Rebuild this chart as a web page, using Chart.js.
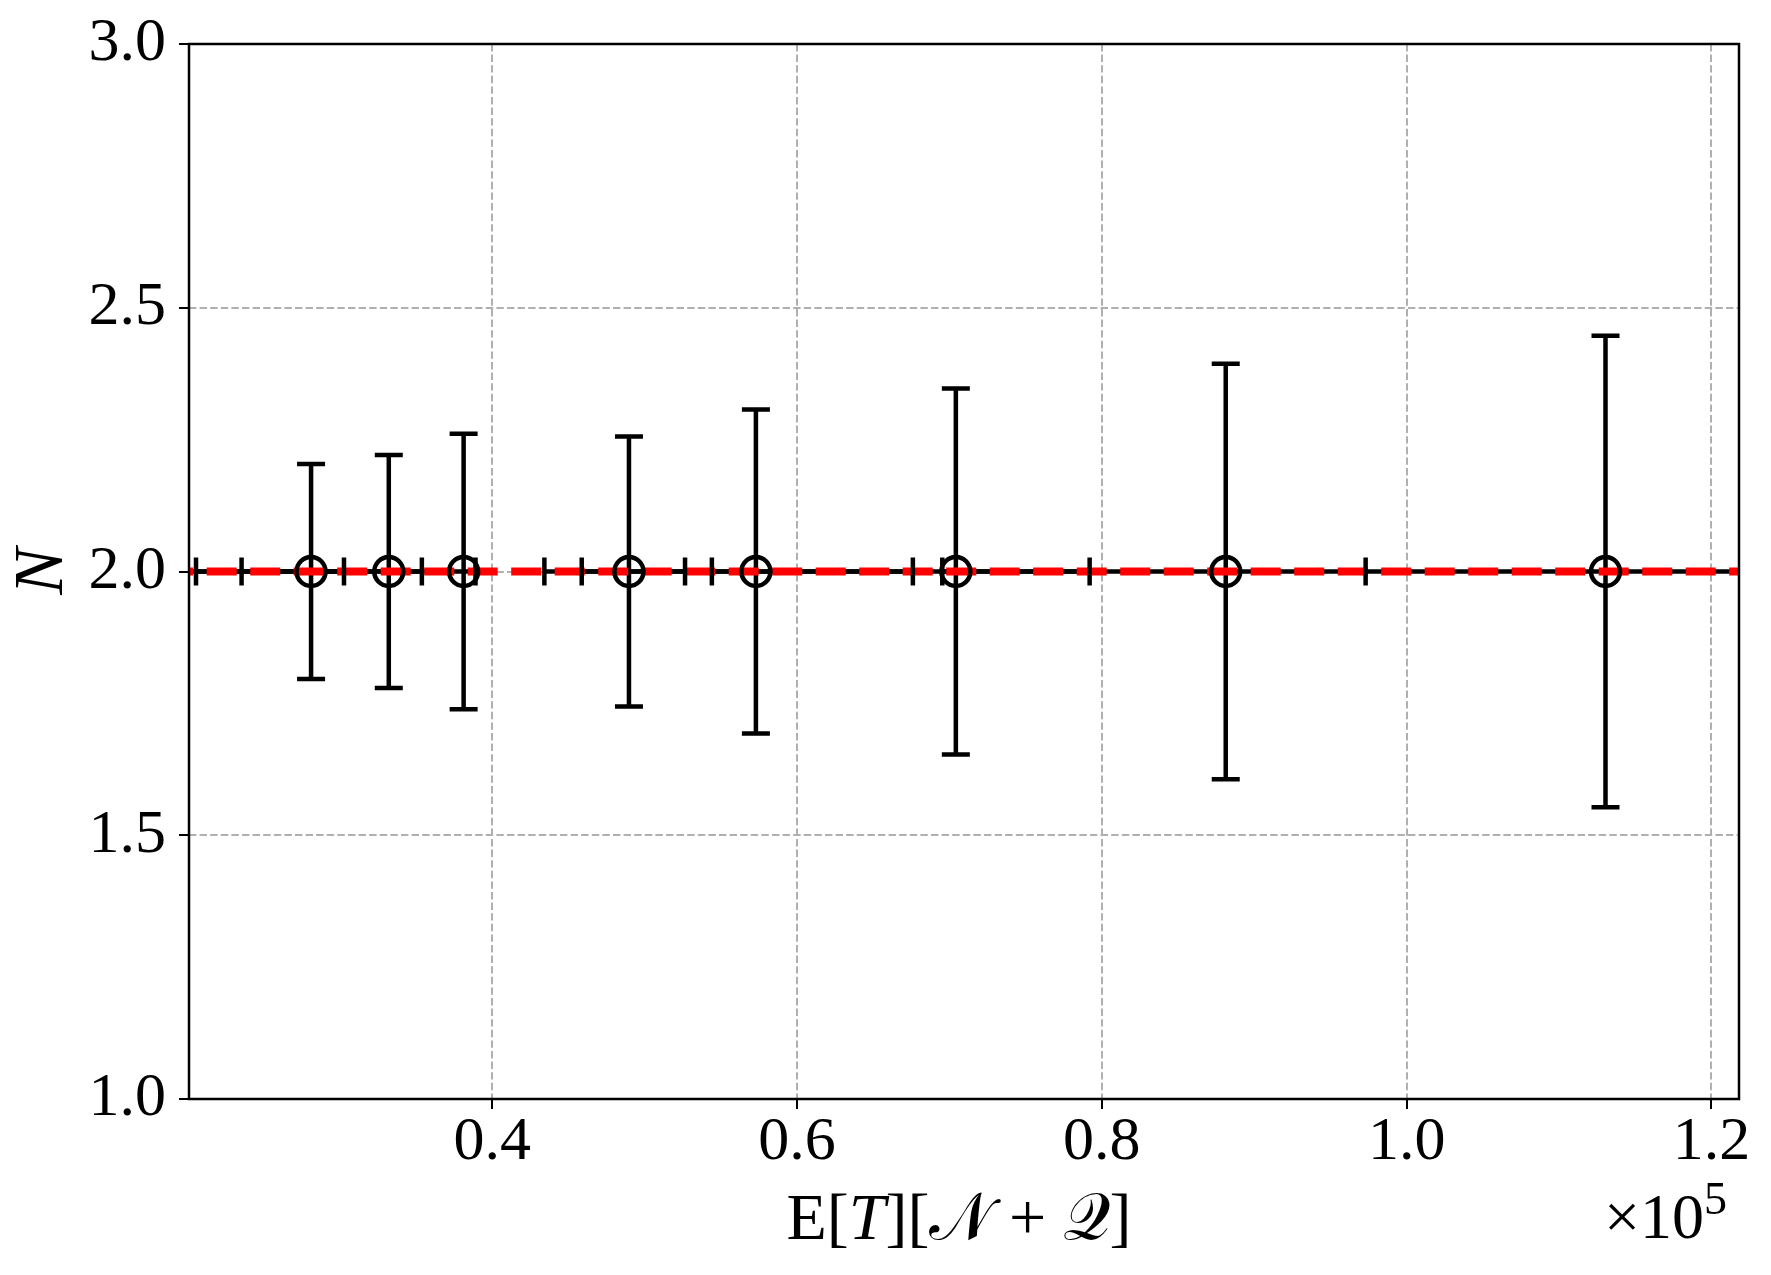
<!DOCTYPE html>
<html>
<head>
<meta charset="utf-8">
<script src="https://cdn.jsdelivr.net/npm/chart.js@4.4.1/dist/chart.umd.min.js"></script>
<style>
  html, body { margin: 0; padding: 0; background: #fff; }
  canvas { display: block; }
</style>
</head>
<body>
<canvas id="chart" width="1771" height="1275"></canvas>
<script>
// E[T] estimates (raw values, axis shows them in units of 1e5)
const meanTime = [28110, 33210, 38120, 48970, 57300, 70420, 88130, 113050];
const timeLow = [19500, 20560, 23550, 43420, 45870, 52650, 69530, 97310];
const timeHigh = [30270, 35380, 38900, 54410, 67600, 79200, 97310, 129000];
const estN = [2, 2, 2, 2, 2, 2, 2, 2];
const nErr = [0.204, 0.221, 0.261, 0.256, 0.307, 0.347, 0.394, 0.447];
const trueN = 2;

const xTicks = [40000, 60000, 80000, 100000, 120000];
const yTicks = [1.0, 1.5, 2.0, 2.5, 3.0];
const xLimits = [20100, 121810];
const yLimits = [1, 3];

const serif = '"Liberation Serif", "DejaVu Serif", serif';

function clipArea(ctx, a) {
    ctx.beginPath();
    ctx.rect(a.left, a.top, a.right - a.left, a.bottom - a.top);
    ctx.clip();
}

// error bar lines go under the red line, caps go over it
const errorBars = {
    id: 'errorBars',
    beforeDatasetsDraw(chart) {
        const { ctx, chartArea, scales: { x, y } } = chart;
        ctx.save();
        clipArea(ctx, chartArea);
        ctx.strokeStyle = '#000';
        ctx.lineWidth = 4.5;
        meanTime.forEach((t, i) => {
            const px = x.getPixelForValue(t);
            const py = y.getPixelForValue(estN[i]);
            ctx.beginPath();
            ctx.moveTo(x.getPixelForValue(timeLow[i]), py);
            ctx.lineTo(x.getPixelForValue(timeHigh[i]), py);
            ctx.moveTo(px, y.getPixelForValue(estN[i] + nErr[i]));
            ctx.lineTo(px, y.getPixelForValue(estN[i] - nErr[i]));
            ctx.stroke();
        });
        ctx.restore();
    },
    afterDatasetDraw(chart, args) {
        if (args.index !== 0) return;
        const { ctx, chartArea, scales: { x, y } } = chart;
        const cap = 14;
        ctx.save();
        clipArea(ctx, chartArea);
        ctx.strokeStyle = '#000';
        ctx.lineWidth = 4.5;
        ctx.beginPath();
        meanTime.forEach((t, i) => {
            const px = x.getPixelForValue(t);
            const py = y.getPixelForValue(estN[i]);
            [timeLow[i], timeHigh[i]].forEach(v => {
                const cx = x.getPixelForValue(v);
                ctx.moveTo(cx, py - cap);
                ctx.lineTo(cx, py + cap);
            });
            [estN[i] + nErr[i], estN[i] - nErr[i]].forEach(v => {
                const cy = y.getPixelForValue(v);
                ctx.moveTo(px - cap, cy);
                ctx.lineTo(px + cap, cy);
            });
        });
        ctx.stroke();
        ctx.restore();
    }
};

const frameAndLabels = {
    id: 'frameAndLabels',
    afterDraw(chart) {
        const { ctx, chartArea: a } = chart;
        ctx.save();
        ctx.strokeStyle = '#000';
        ctx.lineWidth = 2.5;
        ctx.strokeRect(a.left, a.top, a.right - a.left, a.bottom - a.top);

        // x axis label: E[T][N + Q]
        const parts = [
            ['E[', ''], ['T', 'italic '], ['][', ''], ['\u{1D4A9}', ''],
            [' + ', ''], ['\u{1D4AC}', ''], [']', '']
        ];
        const size = 66;
        let total = 0;
        parts.forEach(p => {
            ctx.font = p[1] + size + 'px ' + serif;
            p.push(ctx.measureText(p[0]).width);
            total += p[2];
        });
        let cx = (a.left + a.right) / 2 - 5 - total / 2;
        ctx.fillStyle = '#000';
        ctx.textBaseline = 'alphabetic';
        ctx.textAlign = 'left';
        parts.forEach(p => {
            ctx.font = p[1] + size + 'px ' + serif;
            ctx.fillText(p[0], cx, 1239);
            cx += p[2];
        });

        // offset text x10^5
        const big = '64px ' + serif, small = '46px ' + serif;
        ctx.font = small;
        const w5 = ctx.measureText('5').width;
        ctx.font = big;
        const w10 = ctx.measureText('\u00D710').width;
        const xEnd = a.right - 12;
        ctx.fillText('\u00D710', xEnd - w5 - w10, 1238);
        ctx.font = small;
        ctx.fillText('5', xEnd - w5, 1214);
        ctx.restore();
    }
};

const tickFont = { family: serif, size: 62, lineHeight: 1 };

new Chart(document.getElementById('chart'), {
    type: 'scatter',
    data: {
        datasets: [
            {
                type: 'line',
                label: 'true N',
                data: xLimits.map(v => ({ x: v, y: trueN })),
                borderColor: '#ff0000',
                borderWidth: 8,
                borderDash: [30, 13.5],
                borderDashOffset: 25.8,
                pointRadius: 0,
                order: 2
            },
            {
                label: 'estimate',
                data: meanTime.map((t, i) => ({ x: t, y: estN[i] })),
                pointStyle: 'circle',
                pointRadius: 14.5,
                pointBorderWidth: 4.5,
                borderColor: '#000',
                backgroundColor: 'rgba(0,0,0,0)',
                order: 1
            }
        ]
    },
    options: {
        responsive: false,
        animation: false,
        events: [],
        layout: { padding: { left: 0, top: 42, right: 32, bottom: 0 } },
        plugins: { legend: { display: false }, tooltip: { enabled: false } },
        scales: {
            x: {
                type: 'linear',
                min: xLimits[0],
                max: xLimits[1],
                afterBuildTicks: s => { s.ticks = xTicks.map(v => ({ value: v })); },
                afterFit: s => { s.height = 176; },
                ticks: {
                    callback: v => (v / 1e5).toFixed(1),
                    font: tickFont,
                    color: '#000',
                    padding: 3,
                    maxRotation: 0,
                    autoSkip: false
                },
                grid: {
                    color: '#b0b0b0',
                    lineWidth: 2,
                    tickColor: '#000',
                    tickLength: 10,
                    tickWidth: 2,
                    tickBorderDash: []
                },
                border: { display: false, dash: [7.4, 3.2] }
            },
            y: {
                min: yLimits[0],
                max: yLimits[1],
                afterBuildTicks: s => { s.ticks = yTicks.map(v => ({ value: v })); },
                afterFit: s => { s.width = 189; },
                ticks: {
                    callback: v => v.toFixed(1),
                    font: tickFont,
                    color: '#000',
                    padding: 13
                },
                grid: {
                    color: '#b0b0b0',
                    lineWidth: 2,
                    tickColor: '#000',
                    tickLength: 10,
                    tickWidth: 2,
                    tickBorderDash: []
                },
                border: { display: false, dash: [7.4, 3.2] },
                title: {
                    display: true,
                    text: 'N',
                    color: '#000',
                    font: { family: serif, size: 70, style: 'italic', lineHeight: 1.2 },
                    padding: { top: 2, bottom: 4 }
                }
            }
        }
    },
    plugins: [errorBars, frameAndLabels]
});
</script>
</body>
</html>
